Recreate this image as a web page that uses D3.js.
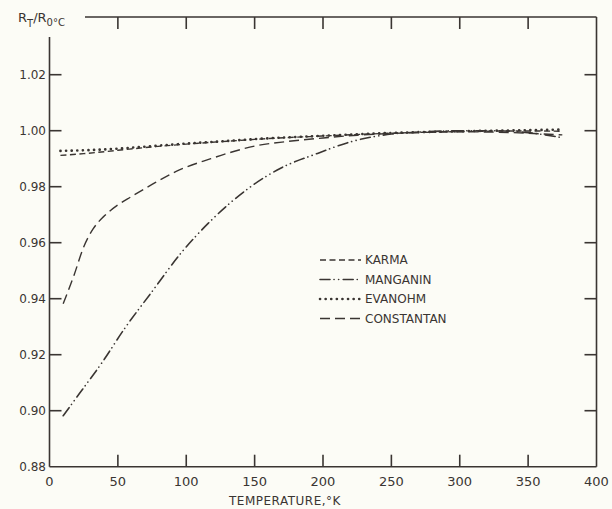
<!DOCTYPE html>
<html><head><meta charset="utf-8">
<script src="https://cdn.jsdelivr.net/npm/d3@7"></script>
<style>
html,body{margin:0;padding:0;background:#fcfcf6;}
svg{display:block;}
text{font-family:"DejaVu Sans","Liberation Sans",sans-serif;fill:#3a3532;}
</style></head>
<body><svg id="c" width="612" height="509"></svg>
<script>
// ---- data ----
const xTicks = [0, 50, 100, 150, 200, 250, 300, 350, 400];
const yTicks = [0.88, 0.90, 0.92, 0.94, 0.96, 0.98, 1.00, 1.02];
const yTickLabels = ["0.88", "0.90", "0.92", "0.94", "0.96", "0.98", "1.00", "1.02"];
const xTickLabels = ["0", "50", "100", "150", "200", "250", "300", "350", "400"];

const karmaT = [8, 25, 50, 75, 100, 132, 150, 200, 250, 300, 350, 375];
const karmaV = [0.9912, 0.9918, 0.9930, 0.9942, 0.9952, 0.9963, 0.9969, 0.9981, 0.9991, 0.9997, 0.9999, 0.9998];

const manganinT = [10, 22, 38, 55, 74, 97, 116, 130, 146, 169, 196, 220, 250, 275, 300, 325, 350, 375];
const manganinV = [0.8982, 0.9062, 0.9169, 0.9294, 0.9419, 0.9568, 0.9669, 0.9733, 0.9796, 0.9866, 0.9919, 0.9960, 0.9988, 0.9996, 1.0000, 1.0000, 0.9993, 0.9975];

const evanohmT = [8, 25, 50, 75, 100, 132, 150, 200, 250, 300, 350, 375];
const evanohmV = [0.9928, 0.9930, 0.9936, 0.9945, 0.9954, 0.9964, 0.9970, 0.9982, 0.9992, 0.9998, 1.0002, 1.0004];

const constantanT = [10, 18, 25, 32, 40, 50, 60, 75, 95, 118, 132, 150, 175, 200, 225, 250, 275, 300, 325, 350, 375];
const constantanV = [0.9382, 0.9485, 0.9585, 0.9650, 0.9695, 0.9735, 0.9765, 0.9808, 0.9860, 0.9900, 0.9922, 0.9945, 0.9962, 0.9974, 0.9984, 0.9990, 0.9994, 0.9996, 0.9995, 0.9991, 0.9985];

const seriesNames = ["KARMA", "MANGANIN", "EVANOHM", "CONSTANTAN"];

// ---- drawing ----
const ink = "#3a3532";
const svg = d3.select("#c");
svg.append("rect").attr("width", 612).attr("height", 509).attr("fill", "#fcfcf6");

const x = d3.scaleLinear().domain([0, 400]).range([49.5, 596.5]);
const y = d3.scaleLinear().domain([0.88, 1.04]).range([466.7, 18.7]);

const styles = {
  KARMA:      {dash: "6,3.5", w: 1.4, cap: "butt"},
  MANGANIN:   {dash: "10,4,0.1,4.5,0.1,4.5", w: 1.6, cap: "round"},
  EVANOHM:    {dash: "0.1,5.5", w: 2.6, cap: "round"},
  CONSTANTAN: {dash: "10,5", w: 1.4, cap: "butt"}
};

// frame
const frame = svg.append("g").attr("stroke", ink).attr("stroke-width", 1.6).attr("fill", "none");
frame.append("line").attr("x1", x(0)).attr("x2", x(0)).attr("y1", 37).attr("y2", y(0.88));
frame.append("line").attr("x1", x(0)).attr("x2", x(400)).attr("y1", y(0.88)).attr("y2", y(0.88));
frame.append("line").attr("x1", x(400)).attr("x2", x(400)).attr("y1", 17).attr("y2", y(0.88));
frame.append("line").attr("x1", 85).attr("x2", x(400)).attr("y1", 17).attr("y2", 17);

// ticks (inward)
const tl = 12;
xTicks.filter(t => t > 0 && t < 400).forEach(t => {
  frame.append("line").attr("x1", x(t)).attr("x2", x(t)).attr("y1", y(0.88)).attr("y2", y(0.88) - tl);
  frame.append("line").attr("x1", x(t)).attr("x2", x(t)).attr("y1", 17).attr("y2", 17 + tl);
});
yTicks.filter(v => v > 0.881).forEach(v => {
  frame.append("line").attr("x1", x(0)).attr("x2", x(0) + tl).attr("y1", y(v)).attr("y2", y(v));
  frame.append("line").attr("x1", x(400)).attr("x2", x(400) - tl).attr("y1", y(v)).attr("y2", y(v));
});

// tick labels
yTicks.forEach((v, i) => {
  svg.append("text").attr("x", 46).attr("y", y(v)).attr("dy", "0.35em")
    .attr("text-anchor", "end").attr("font-size", 12).text(yTickLabels[i]);
});
xTicks.forEach((t, i) => {
  svg.append("text").attr("x", x(t)).attr("y", 486).attr("text-anchor", "middle")
    .attr("font-size", 13).text(xTickLabels[i]);
});

// axis titles
svg.append("text").attr("x", 229).attr("y", 505).attr("font-size", 12).attr("letter-spacing", 0.5)
  .text("TEMPERATURE,°K");
const yl = svg.append("text").attr("x", 18).attr("y", 22).attr("font-size", 13);
yl.append("tspan").text("R");
yl.append("tspan").attr("font-size", 10).attr("dy", 5).text("T");
yl.append("tspan").attr("dy", -5).text("/R");
yl.append("tspan").attr("font-size", 10).attr("dy", 4).text("0°C");

// curves
const line = d3.line().x(d => x(d[0])).y(d => y(d[1])).curve(d3.curveMonotoneX);
const data = {
  KARMA: karmaT.map((t, i) => [t, karmaV[i]]),
  MANGANIN: manganinT.map((t, i) => [t, manganinV[i]]),
  EVANOHM: evanohmT.map((t, i) => [t, evanohmV[i]]),
  CONSTANTAN: constantanT.map((t, i) => [t, constantanV[i]])
};
seriesNames.forEach(n => {
  const s = styles[n];
  svg.append("path").datum(data[n]).attr("d", line)
    .attr("fill", "none").attr("stroke", ink).attr("stroke-width", s.w)
    .attr("stroke-dasharray", s.dash).attr("stroke-linecap", s.cap);
});

// legend
const legY = [260, 279.5, 299, 318.5];
seriesNames.forEach((n, i) => {
  const s = styles[n];
  svg.append("line").attr("x1", 320).attr("x2", 361).attr("y1", legY[i]).attr("y2", legY[i])
    .attr("stroke", ink).attr("stroke-width", s.w).attr("stroke-dasharray", s.dash)
    .attr("stroke-linecap", s.cap);
  svg.append("text").attr("x", 365).attr("y", legY[i]).attr("dy", "0.36em")
    .attr("font-size", 12).text(n);
});
</script></body></html>
